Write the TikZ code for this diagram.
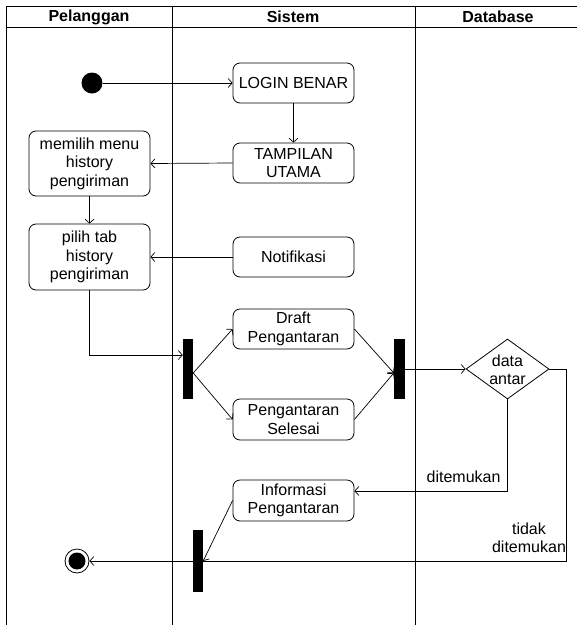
\documentclass[tikz,border=0pt]{standalone}
\usepackage{fontspec}
\setmainfont{Liberation Sans}
\usetikzlibrary{arrows.meta,shapes.geometric}
\begin{document}
\begin{tikzpicture}[x=1pt,y=-1pt,
  every node/.style={font=\fontsize{16}{18.5}\selectfont},
  act/.style={draw, line width=0.8pt, rounded corners=7pt, minimum width=121pt, minimum height=40pt, align=center, inner sep=0pt},
  bar/.style={fill=black, draw=none, minimum width=10pt, minimum height=60pt, inner sep=0pt},
  arr/.style={line width=0.7pt, -{Straight Barb[length=4pt,width=9pt]}},
  lane/.style={line width=0.8pt},
  hdr/.style={font=\fontsize{16}{18.5}\selectfont\bfseries}
]
\useasboundingbox (0,0) rectangle (577,625);
% swimlanes
\draw[lane] (6,625) -- (6,6) -- (577,6);
\draw[lane] (6,27) -- (577,27);
\draw[lane] (172,6) -- (172,625);
\draw[lane] (415,6) -- (415,625);
\node[hdr] (h1) at (89,17) {Pelanggan};
\node[hdr] (h2) at (293,17) {Sistem};
\node[hdr] (h3) at (498,17) {Database};
% nodes
\node[circle, fill=black, minimum size=21pt, inner sep=0pt] (start) at (92,83) {};
\node[act] (login) at (293.5,83) {LOGIN BENAR};
\node[act] (tampil) at (293.5,163) {TAMPILAN\\UTAMA};
\node[act, minimum height=65pt] (memilih) at (89.5,163.5) {memilih menu\\history\\pengiriman};
\node[act, minimum height=66pt] (pilih) at (89.5,257) {pilih tab\\history\\pengiriman};
\node[act] (notif) at (293.5,257) {Notifikasi};
\node[bar] (fork) at (188,369) {};
\node[act] (draft) at (293.5,329) {Draft\\Pengantaran};
\node[act, minimum height=41pt] (selesai) at (293.5,419.5) {Pengantaran\\Selesai};
\node[bar, minimum width=11pt] (join) at (399.5,369) {};
\node[diamond, draw, line width=0.8pt, minimum width=83pt, minimum height=60pt, inner sep=0pt] (dia) at (507.5,369) {};
\node[align=center] (dtext) at (507.5,370) {data\\antar};
\node[act, minimum height=41pt] (info) at (293.5,500.5) {Informasi\\Pengantaran};
\node[bar, minimum height=62pt] (bar2) at (198,561) {};
\node[circle, draw, line width=0.8pt, minimum size=24pt, inner sep=0pt] (end) at (77,561) {};
\fill (end) circle (8.5pt);
% connectors
\draw[arr] (start) -- (login);
\draw[arr] (login) -- (tampil);
\draw[arr] (tampil.west) -- (memilih.east);
\draw[arr] (memilih.south) -- (pilih.north);
\draw[arr] (notif.west) -- (pilih.east);
\draw[arr] (pilih.south) |- ([yshift=14pt]fork.west);
\draw[arr] ([yshift=-4pt]fork.east) -- (draft.west);
\draw[arr] ([yshift=-4pt]fork.east) -- (selesai.west);
\draw[arr] (draft.east) -- ([yshift=-4pt]join.west);
\draw[arr] (selesai.east) -- ([yshift=-4pt]join.west);
\draw[arr] (join.east) -- (dia.west);
\draw[arr] (dia.south) |- ([yshift=9.5pt]info.east);
\draw[arr] (dia.east) -- ++(17,0) |- (end.east);
\draw[arr] (info.west) -- (bar2.east);
% labels
\node[anchor=east] (l1) at (504,477) {ditemukan};
\node[align=center] (l2) at (529,538) {tidak\\ditemukan};
\end{tikzpicture}
\end{document}
